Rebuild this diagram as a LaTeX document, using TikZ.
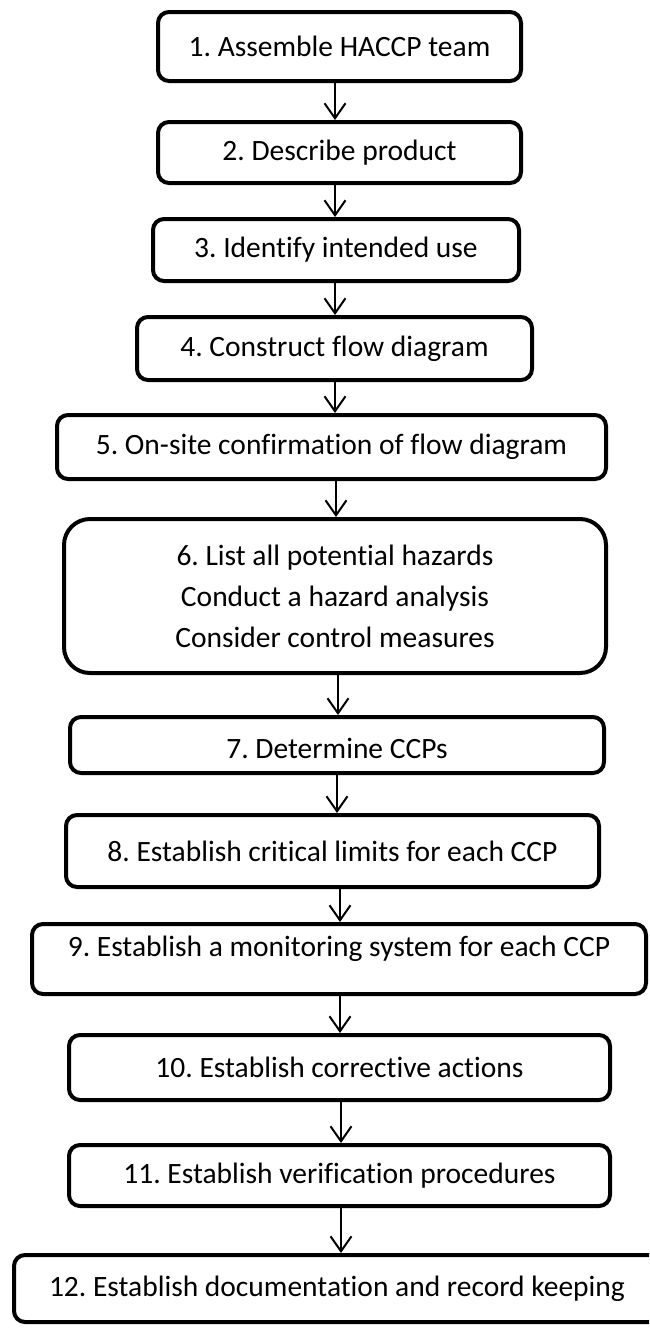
\documentclass[tikz,border=0pt]{standalone}
\usepackage{fontspec}
\setmainfont{Carlito}[Ligatures=CommonOff]
\usetikzlibrary{arrows.meta}
\frenchspacing

\begin{document}
\begin{tikzpicture}[x=1pt,y=-1pt,
    stepbox/.style={draw, line width=4pt, rounded corners=11pt, fill=white, align=center, inner sep=0pt, font=\fontsize{29.5}{41}\selectfont},
    arr/.style={line width=2pt, -{Straight Barb[length=15pt,width=21pt]}}]
    \path[use as bounding box, clip] (0,0) rectangle (649,1328);

    \node[stepbox, minimum width=363pt, minimum height=69pt] (s1) at (339.5,46.5) {1. Assemble HACCP team};
    \node[stepbox, minimum width=363pt, minimum height=61pt] (s2) at (339.5,152.5) {2. Describe product};
    \node[stepbox, minimum width=366pt, minimum height=62pt] (s3) at (336,250) {3. Identify intended use};
    \node[stepbox, minimum width=395pt, minimum height=63pt] (s4) at (334.5,348.5) {4. Construct flow diagram};
    \node[stepbox, minimum width=549pt, minimum height=64pt] (s5) at (331.5,447) {5. On-site confirmation of flow diagram};
    \node[stepbox, rounded corners=26pt, minimum width=542pt, minimum height=154pt] (s6) at (335,596) {6. List all potential hazards\\Conduct a hazard analysis\\Consider control measures};
    \node[stepbox, text height=34pt, text depth=7pt, minimum width=534pt, minimum height=56pt] (s7) at (337,745) {7. Determine CCPs};
    \node[stepbox, minimum width=533pt, minimum height=72pt] (s8) at (332.5,851) {8. Establish critical limits for each CCP};
    \node[stepbox, text height=21pt, text depth=26pt, minimum width=614pt, minimum height=70pt] (s9) at (339,959) {9. Establish a monitoring system for each CCP};
    \node[stepbox, minimum width=541pt, minimum height=65pt] (s10) at (339.5,1067.5) {10. Establish corrective actions};
    \node[stepbox, minimum width=541pt, minimum height=61pt] (s11) at (339.5,1175.5) {11. Establish verification procedures};
    \node[stepbox, minimum width=646pt, minimum height=67pt] (s12) at (337,1288.5) {12. Establish documentation and record keeping};

    \foreach \a/\b/\x in {s1/s2/335, s2/s3/335, s3/s4/335, s4/s5/335, s5/s6/336, s6/s7/338,
                          s7/s8/337, s8/s9/340, s9/s10/340, s10/s11/341, s11/s12/341}
        \draw[arr] (\x,0 |- \a.south) -- (\x,0 |- \b.north);
\end{tikzpicture}
\end{document}
